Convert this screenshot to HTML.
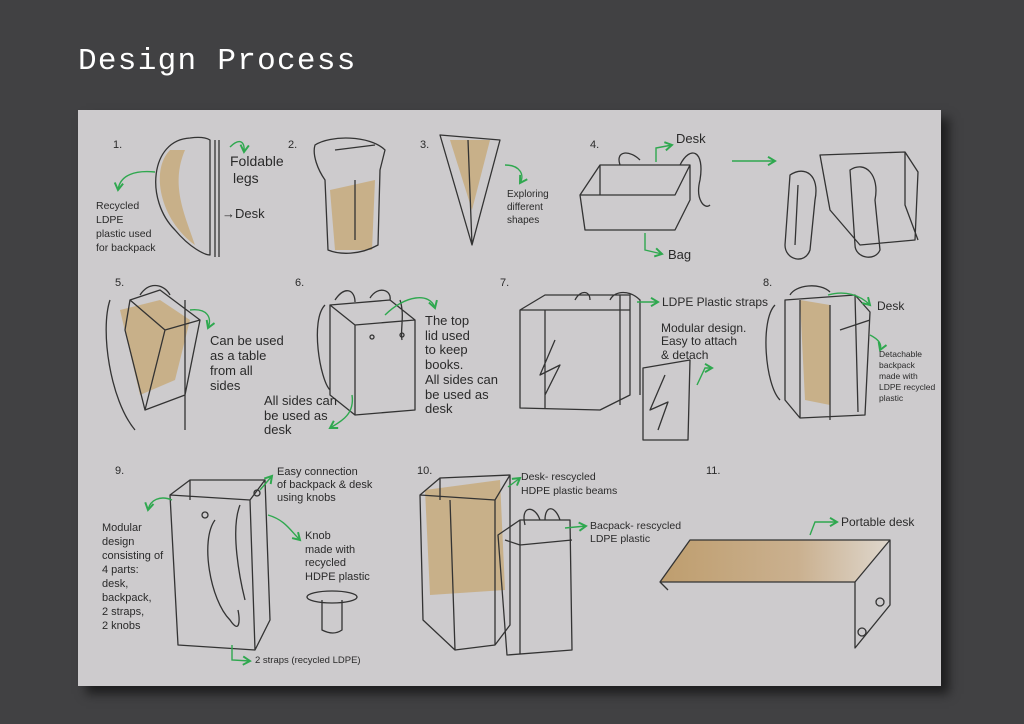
<!DOCTYPE html>
<html><head><meta charset="utf-8"><style>
body{margin:0;width:1024px;height:724px;background:#414143;overflow:hidden;position:relative;font-family:"Liberation Sans",sans-serif}
#t{position:absolute;left:78px;top:44px;color:#fff;font-family:"Liberation Mono",monospace;font-size:31px;letter-spacing:1.3px}
#p{position:absolute;left:78px;top:110px;width:863px;height:576px;background:#cdcbcd;box-shadow:8px 8px 10px rgba(0,0,0,.55)}
svg{position:absolute;left:0;top:0}
text{fill:#2a2a2a;font-family:"Liberation Sans",sans-serif}
.s{fill:none;stroke:#333;stroke-width:1.3;stroke-linejoin:round}
.g{fill:none;stroke:#2fa84f;stroke-width:1.4}
.o{fill:#c49a52;opacity:.55}
</style></head><body>
<div id="t">Design Process</div>
<div id="p"></div>
<svg width="1024" height="724">
<defs><marker id="a" markerWidth="8" markerHeight="8" refX="6" refY="4" orient="auto"><path d="M1,1 L6,4 L1,7" fill="none" stroke="#2fa84f" stroke-width="1.4"/></marker>
<linearGradient id="dg" x1="0" x2="1"><stop offset="0" stop-color="#b88a45"/><stop offset=".6" stop-color="#c9a575"/><stop offset="1" stop-color="#e6dccd"/></linearGradient></defs>
<g font-size="11">
<text x="113" y="148">1.</text><text x="288" y="148">2.</text><text x="420" y="148">3.</text><text x="590" y="148">4.</text>
<text x="115" y="286">5.</text><text x="295" y="286">6.</text><text x="500" y="286">7.</text><text x="763" y="286">8.</text>
<text x="115" y="474">9.</text><text x="417" y="474">10.</text><text x="706" y="474">11.</text>
</g>
<!-- 1 -->
<path class="o" d="M170,150 C150,170 160,220 195,245 C185,215 170,185 185,150 Z"/>
<path class="s" d="M190,138 C150,140 145,200 175,230 C190,248 205,255 210,255 L210,140 C205,137 197,137 190,138 Z M215,140 L215,257 M219,140 L219,257"/>
<path class="g" marker-end="url(#a)" d="M230,147 C240,137 245,142 244,152"/>
<path class="g" marker-end="url(#a)" d="M155,172 C135,170 120,175 118,190"/>
<text x="230" y="166" font-size="14">Foldable</text><text x="233" y="183" font-size="14">legs</text>
<text x="222" y="218" font-size="13">→Desk</text>
<g font-size="10.5"><text x="96" y="209">Recycled</text><text x="96" y="223">LDPE</text><text x="96" y="237">plastic used</text><text x="96" y="251">for backpack</text></g>
<!-- 2 -->
<path class="o" d="M330,190 L375,180 L372,250 L335,250 Z"/>
<path class="s" d="M315,145 C330,135 370,135 385,150 L380,170 L378,245 C360,255 340,255 328,250 L325,180 C318,170 312,155 315,145 Z M335,150 L375,145 M355,180 L355,240"/>
<!-- 3 -->
<path class="o" d="M450,140 L490,140 L472,210 Z"/>
<path class="s" d="M440,135 L500,140 L472,245 Z M468,140 L472,245"/>
<path class="g" marker-end="url(#a)" d="M505,165 C520,165 525,175 520,183"/>
<g font-size="10"><text x="507" y="197">Exploring</text><text x="507" y="210">different</text><text x="507" y="223">shapes</text></g>
<!-- 4 -->
<path class="s" d="M580,195 L600,165 L690,165 L690,200 L675,230 L585,230 Z M600,165 L600,195 M580,195 L675,195 L690,165 M620,165 C615,150 630,150 640,160 M680,165 C690,145 705,150 700,180 C695,200 705,210 710,205"/>
<path class="g" marker-end="url(#a)" d="M656,162 L656,148 L672,145"/>
<path class="g" marker-end="url(#a)" d="M645,233 L645,250 L662,254"/>
<text x="676" y="143" font-size="13">Desk</text><text x="668" y="259" font-size="13">Bag</text>
<path class="g" marker-end="url(#a)" d="M732,161 L775,161"/>
<path class="s" d="M820,155 L905,152 L918,172 L915,240 L860,245 L830,210 Z M905,152 L905,205 L918,240 M790,175 C805,165 820,175 815,200 L810,250 C805,265 785,260 785,245 Z M798,185 L795,245 M850,170 C865,160 880,175 875,200 L880,250 C875,262 855,258 855,245 Z"/>
<!-- 5 -->
<path class="o" d="M120,310 L160,300 L190,320 L175,380 L140,395 Z"/>
<path class="s" d="M110,300 C100,330 110,400 135,430 M185,300 L185,430 M130,300 L160,290 L200,320 L185,395 L145,410 L125,330 Z M130,300 L165,330 L200,320 M165,330 L145,410 M140,295 C150,280 165,285 170,295"/>
<path class="g" marker-end="url(#a)" d="M190,310 C208,308 212,318 208,328"/>
<g font-size="13"><text x="210" y="345">Can be used</text><text x="210" y="360">as a table</text><text x="210" y="375">from all</text><text x="210" y="390">sides</text></g>
<!-- 6 -->
<path class="s" d="M330,305 L390,300 L415,320 L415,410 L355,415 L330,395 Z M330,305 L355,325 L415,320 M355,325 L355,415 M325,305 C310,320 320,380 330,390 M335,300 C345,285 355,290 355,302 M370,298 C378,285 392,290 390,300 M400,300 C405,315 400,330 402,340"/>
<circle class="s" cx="372" cy="337" r="2"/><circle class="s" cx="402" cy="335" r="2"/>
<path class="g" marker-end="url(#a)" d="M385,315 C405,295 430,292 435,308"/>
<path class="g" marker-end="url(#a)" d="M352,395 C355,415 340,422 330,428"/>
<g font-size="13"><text x="425" y="325">The top</text><text x="425" y="340">lid used</text><text x="425" y="354">to keep</text><text x="425" y="369">books.</text><text x="425" y="384">All sides can</text><text x="425" y="399">be used as</text><text x="425" y="413">desk</text>
<text x="264" y="405">All sides can</text><text x="264" y="420">be used as</text><text x="264" y="434">desk</text></g>
<!-- 7 -->
<path class="s" d="M520,310 L545,295 L630,295 L630,395 L600,410 L520,408 Z M545,310 L545,408 M520,310 L630,310 M555,340 L540,375 L560,365 L545,395 M610,300 C615,290 630,290 640,300 L640,395 M575,300 C580,290 590,290 590,300 M620,295 L620,405"/>
<path class="s" d="M643,368 L690,360 L688,440 L643,440 Z M665,375 L650,410 L668,402 L658,430"/>
<path class="g" marker-end="url(#a)" d="M637,302 L658,302"/>
<path class="g" marker-end="url(#a)" d="M697,385 L705,368 L712,368"/>
<text x="662" y="306" font-size="12">LDPE Plastic straps</text>
<g font-size="12"><text x="661" y="332">Modular design.</text><text x="661" y="345">Easy to attach</text><text x="661" y="359">&amp; detach</text></g>
<!-- 8 -->
<path class="o" d="M800,300 L830,305 L830,405 L805,400 Z"/>
<path class="s" d="M785,300 L855,295 L870,312 L865,415 L800,418 L785,400 Z M800,300 L800,418 M830,305 L830,420 M855,295 L858,412 M775,305 C760,320 765,385 780,400 M790,295 C795,285 820,282 830,292 M840,330 L870,320"/>
<path class="g" marker-end="url(#a)" d="M828,295 C845,290 860,295 870,305"/>
<path class="g" marker-end="url(#a)" d="M870,335 C880,340 882,345 880,350"/>
<text x="877" y="310" font-size="12">Desk</text>
<g font-size="8.5"><text x="879" y="357">Detachable</text><text x="879" y="368">backpack</text><text x="879" y="379">made with</text><text x="879" y="390">LDPE recycled</text><text x="879" y="401">plastic</text></g>
<!-- 9 -->
<path class="s" d="M170,495 L190,480 L265,480 L270,620 L255,650 L178,645 Z M190,480 L190,500 M170,495 L250,500 L265,480 M250,500 L255,650 M215,520 C200,540 210,600 230,620 C240,635 240,620 238,610 M240,505 C230,530 240,580 245,600"/>
<circle class="s" cx="205" cy="515" r="3"/><circle class="s" cx="257" cy="493" r="3"/>
<path class="g" marker-end="url(#a)" d="M172,500 C160,495 150,500 148,510"/>
<path class="g" marker-end="url(#a)" d="M260,490 L272,476"/>
<path class="g" marker-end="url(#a)" d="M268,515 C285,520 290,530 300,540"/>
<path class="g" marker-end="url(#a)" d="M232,645 L232,660 L250,661"/>
<g font-size="11"><text x="277" y="475">Easy connection</text><text x="277" y="488">of backpack &amp; desk</text><text x="277" y="501">using knobs</text>
<text x="102" y="531">Modular</text><text x="102" y="545">design</text><text x="102" y="559">consisting of</text><text x="102" y="573">4 parts:</text><text x="102" y="587">desk,</text><text x="102" y="601">backpack,</text><text x="102" y="615">2 straps,</text><text x="102" y="629">2 knobs</text>
<text x="305" y="539">Knob</text><text x="305" y="553">made with</text><text x="305" y="566">recycled</text><text x="305" y="580">HDPE plastic</text></g>
<text x="255" y="663" font-size="9.5">2 straps (recycled LDPE)</text>
<ellipse class="s" cx="332" cy="597" rx="25" ry="6"/><path class="s" d="M322,600 L322,630 C330,634 336,634 342,630 L342,600"/>
<!-- 10 -->
<path class="o" d="M425,490 L500,480 L505,590 L430,595 Z"/>
<path class="s" d="M420,495 L440,478 L510,475 L510,625 L495,645 L455,650 L423,620 Z M440,478 L440,500 M420,495 L495,500 L510,475 M450,500 L455,650 M495,500 L495,645"/>
<path class="s" d="M498,535 L520,520 L570,520 L572,650 L507,655 Z M520,520 L520,545 L572,540 M505,540 L520,545 M520,545 L520,655 M525,525 C520,505 535,505 540,520 M545,520 C545,505 555,505 560,520"/>
<path class="g" marker-end="url(#a)" d="M508,487 L520,478"/>
<path class="g" marker-end="url(#a)" d="M565,528 L586,526"/>
<g font-size="10.5"><text x="521" y="480">Desk- rescycled</text><text x="521" y="494">HDPE plastic beams</text><text x="590" y="529">Bacpack- rescycled</text><text x="590" y="542">LDPE plastic</text></g>
<!-- 11 -->
<path d="M690,540 L890,540 L855,582 L660,582 Z" fill="url(#dg)" opacity=".7"/>
<path class="s" d="M690,540 L890,540 L855,582 L660,582 Z M855,582 L855,648 L890,605 L890,540 M660,582 L668,590"/>
<circle class="s" cx="862" cy="632" r="4"/><circle class="s" cx="880" cy="602" r="4"/>
<path class="g" marker-end="url(#a)" d="M810,535 L815,522 L837,522"/>
<text x="841" y="526" font-size="12">Portable desk</text>
</svg>
</body></html>
